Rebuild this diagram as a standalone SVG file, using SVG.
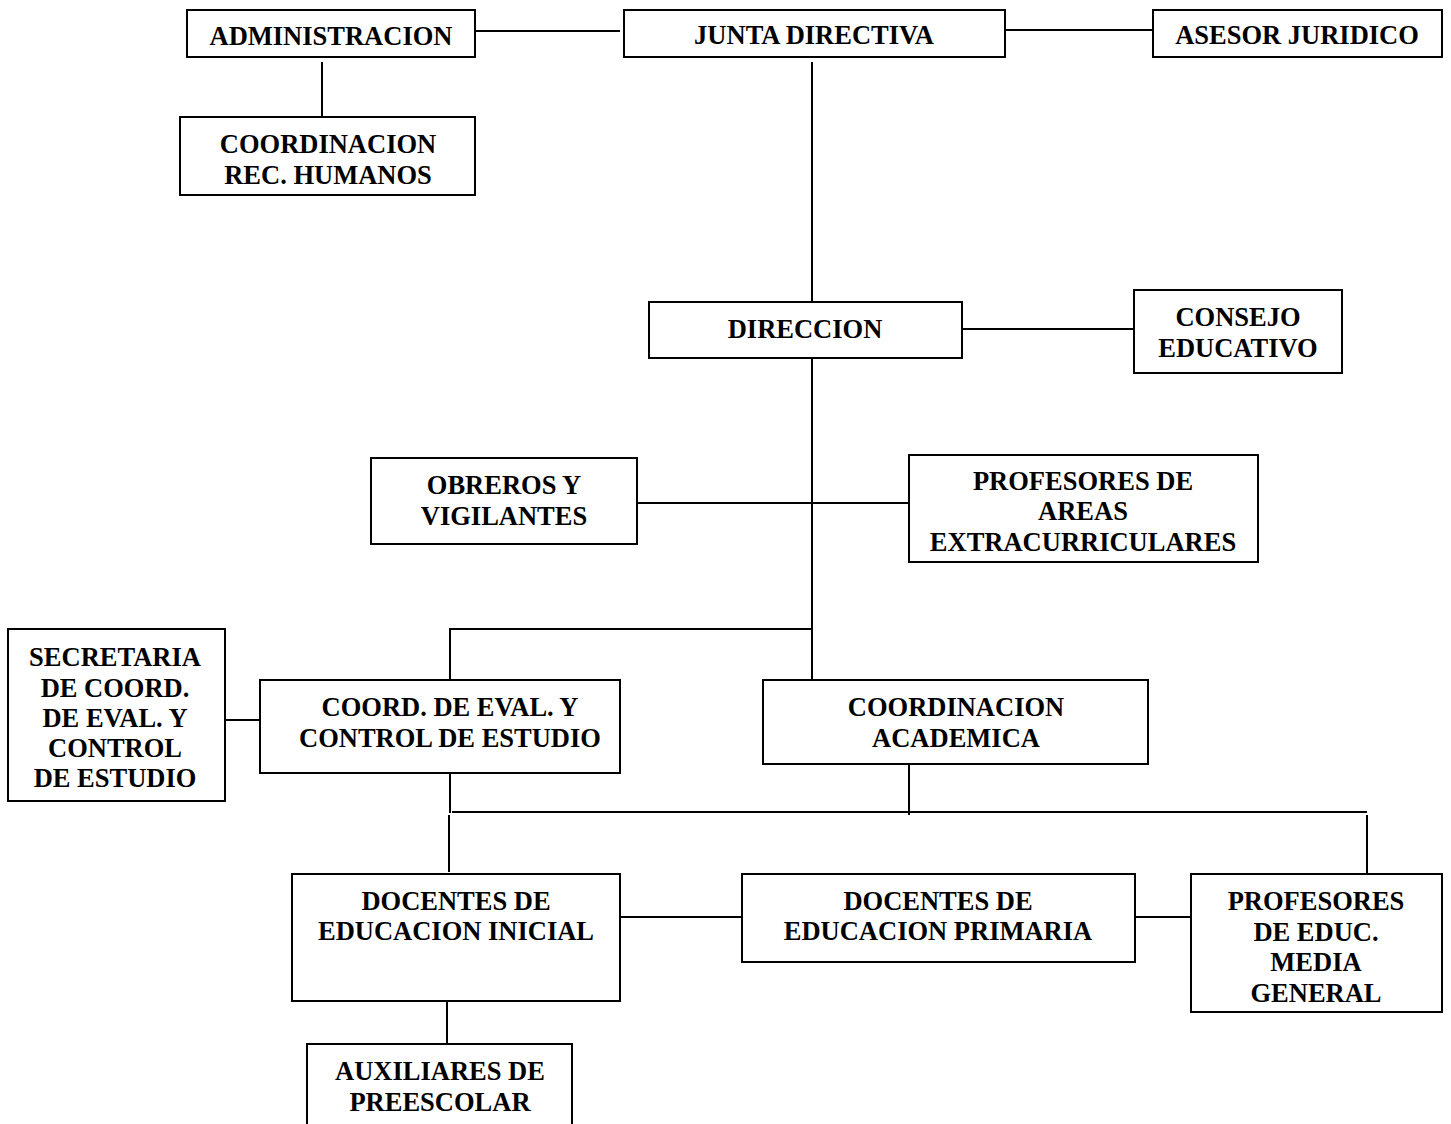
<svg xmlns="http://www.w3.org/2000/svg" width="1451" height="1124" viewBox="0 0 1451 1124">
<style>
.b{fill:#fff;stroke:#000;stroke-width:2}
.t{font-family:"Liberation Serif","Times New Roman",serif;font-weight:bold;font-size:26.5px;fill:#000;text-anchor:middle}
.c{stroke:#000;stroke-width:2;fill:none}
</style>
<rect width="1451" height="1124" fill="#fff"/>
<g id="connectors">
<path class="c" d="M475 31H620"/>
<path class="c" d="M1005 30H1153"/>
<path class="c" d="M322 62V117"/>
<path class="c" d="M812 62V302"/>
<path class="c" d="M962 329H1134"/>
<path class="c" d="M812 358V680"/>
<path class="c" d="M637 503H909"/>
<path class="c" d="M450 680V629H812"/>
<path class="c" d="M225 720H260"/>
<path class="c" d="M450 773V813"/>
<path class="c" d="M449 815V872"/>
<path class="c" d="M909 764V815"/>
<path class="c" d="M452 812H1367"/>
<path class="c" d="M1367 815V874"/>
<path class="c" d="M620 917H742"/>
<path class="c" d="M1135 917H1191"/>
<path class="c" d="M447 1001V1044"/>
</g>
<g id="administracion"><rect class="b" x="187" y="10" width="288" height="47"/><text class="t" x="331" y="45">ADMINISTRACION</text></g>
<g id="junta"><rect class="b" x="624" y="10" width="381" height="47"/><text class="t" x="814" y="44">JUNTA DIRECTIVA</text></g>
<g id="asesor"><rect class="b" x="1153" y="10" width="289" height="47"/><text class="t" x="1297" y="44">ASESOR JURIDICO</text></g>
<g id="rrhh"><rect class="b" x="180" y="117" width="295" height="78"/><text class="t" x="328" y="153">COORDINACION</text><text class="t" x="328" y="184">REC. HUMANOS</text></g>
<g id="direccion"><rect class="b" x="649" y="302" width="313" height="56"/><text class="t" x="805" y="338">DIRECCION</text></g>
<g id="consejo"><rect class="b" x="1134" y="290" width="208" height="83"/><text class="t" x="1238" y="326">CONSEJO</text><text class="t" x="1238" y="357">EDUCATIVO</text></g>
<g id="obreros"><rect class="b" x="371" y="458" width="266" height="86"/><text class="t" x="504" y="494">OBREROS Y</text><text class="t" x="504" y="525">VIGILANTES</text></g>
<g id="extracurriculares"><rect class="b" x="909" y="455" width="349" height="107"/><text class="t" x="1083" y="490">PROFESORES DE</text><text class="t" x="1083" y="520">AREAS</text><text class="t" x="1083" y="551">EXTRACURRICULARES</text></g>
<g id="secretaria"><rect class="b" x="8" y="629" width="217" height="172"/><text class="t" x="115" y="666">SECRETARIA</text><text class="t" x="115" y="697">DE COORD.</text><text class="t" x="115" y="727">DE EVAL. Y</text><text class="t" x="115" y="757">CONTROL</text><text class="t" x="115" y="787">DE ESTUDIO</text></g>
<g id="coord-eval"><rect class="b" x="260" y="680" width="360" height="93"/><text class="t" x="450" y="716">COORD. DE EVAL. Y</text><text class="t" x="450" y="747">CONTROL DE ESTUDIO</text></g>
<g id="coord-acad"><rect class="b" x="763" y="680" width="385" height="84"/><text class="t" x="956" y="716">COORDINACION</text><text class="t" x="956" y="747">ACADEMICA</text></g>
<g id="inicial"><rect class="b" x="292" y="874" width="328" height="127"/><text class="t" x="456" y="910">DOCENTES DE</text><text class="t" x="456" y="940">EDUCACION INICIAL</text></g>
<g id="primaria"><rect class="b" x="742" y="874" width="393" height="88"/><text class="t" x="938" y="910">DOCENTES DE</text><text class="t" x="938" y="940">EDUCACION PRIMARIA</text></g>
<g id="media"><rect class="b" x="1191" y="874" width="251" height="138"/><text class="t" x="1316" y="910">PROFESORES</text><text class="t" x="1316" y="941">DE EDUC.</text><text class="t" x="1316" y="971">MEDIA</text><text class="t" x="1316" y="1002">GENERAL</text></g>
<g id="auxiliares"><path class="b" d="M307 1124V1044H572V1124"/><text class="t" x="440" y="1080">AUXILIARES DE</text><text class="t" x="440" y="1111">PREESCOLAR</text></g>
</svg>
